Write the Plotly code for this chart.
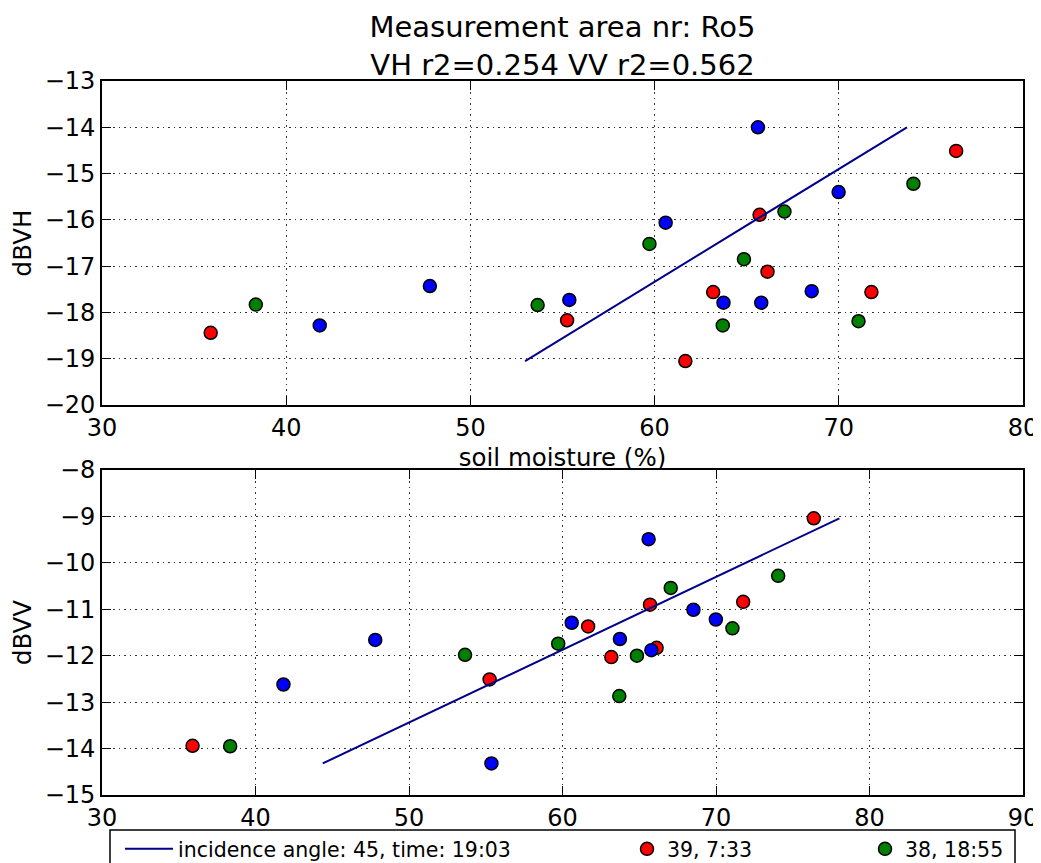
import plotly.graph_objects as go

# ---- data ----
red_x = [35.9, 55.25, 61.67, 63.18, 65.7, 66.13, 71.77, 76.37]
red_vh = [-18.44, -18.17, -19.05, -17.56, -15.89, -17.12, -17.56, -14.51]
red_vv = [-13.94, -12.51, -11.37, -12.03, -10.90, -11.83, -10.84, -9.04]

green_x = [38.35, 53.65, 59.72, 63.7, 64.85, 67.05, 71.07, 74.05]
green_vh = [-17.83, -17.84, -16.52, -18.28, -16.85, -15.82, -18.19, -15.22]
green_vv = [-13.95, -11.98, -11.74, -12.87, -12.0, -10.54, -11.41, -10.28]

blue_x = [41.82, 47.8, 55.37, 60.6, 63.74, 65.61, 65.79, 68.53, 69.99]
blue_vh = [-18.28, -17.43, -17.73, -16.06, -17.79, -14.0, -17.79, -17.54, -15.40]
blue_vv = [-12.62, -11.66, -14.32, -11.29, -11.64, -9.49, -11.88, -11.01, -11.22]

vh_fit_x = [52.97, 73.7]
vh_fit_y = [-19.05, -14.0]
vv_fit_x = [44.38, 78.04]
vv_fit_y = [-14.32, -9.04]

title_lines = ["Measurement area nr: Ro5", "VH r2=0.254 VV r2=0.562"]
line_label = "incidence angle: 45, time: 19:03"
red_label = "39, 7:33"
green_label = "38, 18:55"

FONT = "DejaVu Sans"
TICK_FS, LABEL_FS, TITLE_FS, LEG_FS = 24, 24.5, 29, 20.5
OFF = 8  # page body margin in the browser
PAGE_W, PAGE_H = 1041, 863
W, H = PAGE_W - OFF, PAGE_H - OFF

# plot frame in page pixels
L_PX, R_PX, T_PX, B_PX = 102, 1023, 81, 795
ML, MR, MT, MB = L_PX - OFF, PAGE_W - R_PX, T_PX - OFF, PAGE_H - B_PX
PW = W - ML - MR
PH = H - MT - MB


def px_x(p):  # page px -> paper x
    return (p - L_PX) / PW


def px_y(p):  # page px -> paper y
    return (B_PX - p) / PH


def cx(p):  # page px -> container x
    return (p - OFF) / W


def cy(p):  # page px -> container y
    return (H - (p - OFF)) / H


marker_line = dict(color="black", width=1.5)
MS = 13

fig = go.Figure()

series = [
    ("red", red_x, red_vh, red_vv, red_label, "legend2"),
    ("#008000", green_x, green_vh, green_vv, green_label, "legend3"),
    ("blue", blue_x, blue_vh, blue_vv, None, None),
]
for color, xs, vh, vv, label, leg in series:
    fig.add_trace(go.Scatter(
        x=xs, y=vh, mode="markers", xaxis="x", yaxis="y",
        marker=dict(color=color, size=MS, line=marker_line),
        name=label or "", showlegend=label is not None,
        legend=leg if leg else "legend"))
    fig.add_trace(go.Scatter(
        x=xs, y=vv, mode="markers", xaxis="x2", yaxis="y2",
        marker=dict(color=color, size=MS, line=marker_line),
        name=label or "", showlegend=False))

fig.add_trace(go.Scatter(x=vh_fit_x, y=vh_fit_y, mode="lines", xaxis="x", yaxis="y",
                         line=dict(color="#00008b", width=2), name=line_label,
                         showlegend=True, legend="legend"))
fig.add_trace(go.Scatter(x=vv_fit_x, y=vv_fit_y, mode="lines", xaxis="x2", yaxis="y2",
                         line=dict(color="#00008b", width=2), showlegend=False))

axis_common = dict(
    showline=True, linecolor="black", linewidth=1.8, mirror="ticks",
    ticks="inside", ticklen=9, tickwidth=1.2, tickcolor="black",
    showgrid=True, gridcolor="rgba(0,0,0,0.8)", gridwidth=1, griddash="1.5px,4px",
    zeroline=False, automargin=False,
    tickfont=dict(family=FONT, size=TICK_FS, color="black"),
)

top_dom = [px_y(405), 1.0]
bot_dom = [0.0, px_y(470)]

leg_common = dict(xref="container", yref="container", xanchor="left", yanchor="middle",
                  orientation="h", bgcolor="rgba(0,0,0,0)", borderwidth=0,
                  font=dict(family=FONT, size=LEG_FS, color="black"))
label_font = dict(family=FONT, size=LABEL_FS, color="black")

fig.update_layout(
    width=W, height=H,
    margin=dict(l=ML, r=MR, t=MT, b=MB, autoexpand=False),
    paper_bgcolor="white", plot_bgcolor="white",
    font=dict(family=FONT, color="black"),
    title=dict(text="<br>".join(title_lines), x=0.5, xref="paper", xanchor="center",
               y=cy(37), yref="container", yanchor="middle",
               font=dict(family=FONT, size=TITLE_FS, color="black")),
    xaxis=dict(axis_common, range=[30, 80], dtick=10, anchor="y", domain=[0, 1],
               title=dict(text="soil moisture (%)", standoff=8, font=label_font)),
    yaxis=dict(axis_common, range=[-20, -13], dtick=1, anchor="x", domain=top_dom,
               title=dict(text="dBVH", standoff=12, font=label_font)),
    xaxis2=dict(axis_common, range=[30, 90], dtick=10, anchor="y2", domain=[0, 1]),
    yaxis2=dict(axis_common, range=[-15, -8], dtick=1, anchor="x2", domain=bot_dom,
                title=dict(text="dBVV", standoff=12, font=label_font)),
    legend=dict(leg_common, x=cx(120), y=cy(849), itemwidth=48),
    legend2=dict(leg_common, x=cx(627), y=cy(849)),
    legend3=dict(leg_common, x=cx(865), y=cy(849)),
    shapes=[dict(type="rect", xref="paper", yref="paper",
                 x0=px_x(110), x1=px_x(1015), y0=px_y(830), y1=px_y(900),
                 line=dict(color="black", width=1.5), fillcolor="rgba(0,0,0,0)",
                 layer="above")],
    showlegend=True,
)

fig.write_html("out.html")
